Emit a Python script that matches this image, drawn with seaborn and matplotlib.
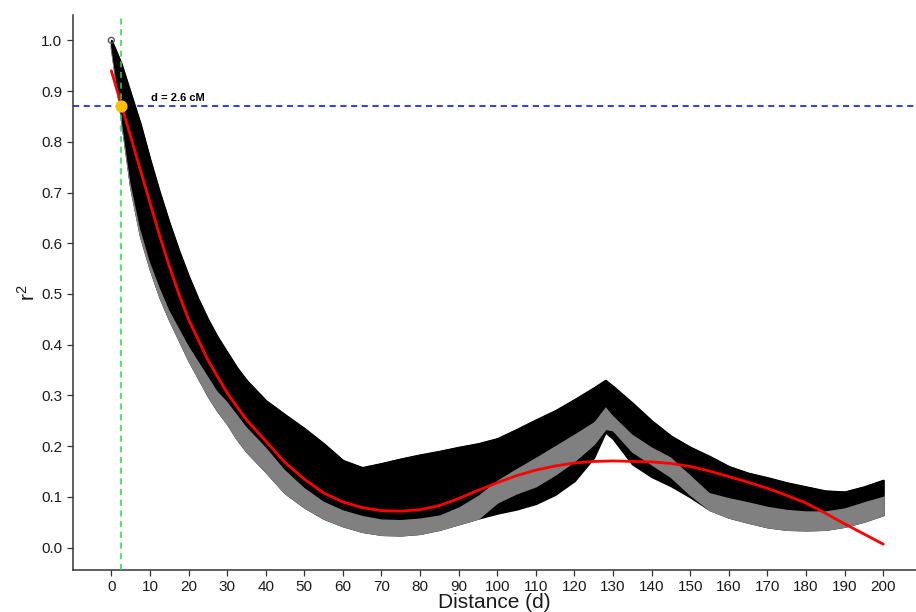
import matplotlib
matplotlib.use('Agg')
import matplotlib.pyplot as plt
import seaborn as sns

# LD decay: envelopes of the point cloud (distance in cM)
d_band = [0, 2.5, 5, 7.5, 10, 12.5, 15, 17.5, 20, 22.5, 25, 27.5, 30, 32.5, 35, 37.5,
          40, 45, 50, 55, 60, 65, 70, 75, 80, 85, 90, 95, 100, 105, 110, 115, 120,
          125, 128, 130, 135, 140, 145, 150, 155, 160, 165, 170, 175, 180, 185, 190,
          195, 200]
# top of the black cloud
r_top = [1.0, 0.955, 0.895, 0.835, 0.765, 0.70, 0.64, 0.585, 0.535, 0.49, 0.45, 0.415,
         0.385, 0.355, 0.33, 0.31, 0.29, 0.262, 0.235, 0.205, 0.172, 0.158, 0.166,
         0.175, 0.183, 0.19, 0.198, 0.205, 0.215, 0.233, 0.252, 0.27, 0.292, 0.315,
         0.33, 0.318, 0.285, 0.25, 0.22, 0.198, 0.18, 0.16, 0.147, 0.138, 0.128, 0.12,
         0.112, 0.11, 0.12, 0.133]
# bottom of the upper black band (= top of the visible grey band)
r_black_bot = [0.99, 0.855, 0.72, 0.63, 0.565, 0.515, 0.47, 0.435, 0.40, 0.37, 0.34,
               0.31, 0.29, 0.265, 0.24, 0.22, 0.20, 0.155, 0.12, 0.093, 0.076, 0.065,
               0.058, 0.057, 0.06, 0.066, 0.082, 0.105, 0.135, 0.158, 0.18, 0.203,
               0.226, 0.25, 0.28, 0.262, 0.225, 0.2, 0.18, 0.145, 0.11, 0.1, 0.092,
               0.083, 0.077, 0.074, 0.074, 0.08, 0.092, 0.103]
# bottom of the grey cloud
r_grey_bot = [0.985, 0.85, 0.71, 0.615, 0.55, 0.495, 0.45, 0.41, 0.37, 0.335, 0.30,
              0.27, 0.245, 0.215, 0.19, 0.17, 0.15, 0.108, 0.08, 0.058, 0.043, 0.032,
              0.026, 0.025, 0.028, 0.036, 0.047, 0.058, 0.09, 0.108, 0.122, 0.145,
              0.172, 0.205, 0.235, 0.232, 0.19, 0.165, 0.14, 0.105, 0.075, 0.06, 0.05,
              0.041, 0.036, 0.035, 0.036, 0.042, 0.052, 0.065]
# lowest black points (only shows below the grey around the peak)
r_lowest = [0.985, 0.85, 0.71, 0.615, 0.55, 0.495, 0.45, 0.41, 0.37, 0.335, 0.30,
            0.27, 0.245, 0.215, 0.19, 0.17, 0.15, 0.108, 0.08, 0.058, 0.043, 0.032,
            0.026, 0.025, 0.028, 0.036, 0.047, 0.058, 0.068, 0.076, 0.087, 0.105,
            0.132, 0.178, 0.228, 0.215, 0.165, 0.14, 0.122, 0.1, 0.075, 0.06, 0.05,
            0.041, 0.036, 0.035, 0.036, 0.042, 0.052, 0.065]

# fitted decay curve
d_fit = [0, 2.5, 5, 7.5, 10, 12.5, 15, 17.5, 20, 25, 30, 35, 40, 45, 50, 55, 60, 65,
         70, 75, 80, 85, 90, 95, 100, 105, 110, 115, 120, 125, 130, 135, 140, 145,
         150, 155, 160, 165, 170, 175, 180, 185, 190, 195, 200]
r_fit = [0.94, 0.875, 0.81, 0.745, 0.68, 0.615, 0.555, 0.50, 0.45, 0.37, 0.305, 0.252,
         0.21, 0.168, 0.135, 0.108, 0.09, 0.079, 0.073, 0.072, 0.075, 0.083, 0.097,
         0.113, 0.128, 0.142, 0.153, 0.161, 0.167, 0.170, 0.171, 0.170, 0.169, 0.166,
         0.160, 0.151, 0.140, 0.129, 0.117, 0.103, 0.088, 0.068, 0.047, 0.027, 0.007]

# half-decay point
d_half = 2.6
r_half = 0.87
half_label = "d = 2.6 cM"

x_ticks = list(range(0, 201, 10))
y_ticks = [0.0, 0.1, 0.2, 0.3, 0.4, 0.5, 0.6, 0.7, 0.8, 0.9, 1.0]

sns.set_style("ticks")
plt.rcParams['font.family'] = ['Liberation Sans', 'DejaVu Sans']
plt.rcParams['mathtext.default'] = 'regular'

fig = plt.figure(figsize=(9.16, 6.12), dpi=100)
ax = fig.add_axes([0.0794, 0.0686, 0.9206, 0.907])

# point cloud
ax.fill_between(d_band, r_lowest, r_top, color='black', lw=1.5, zorder=1)
ax.fill_between(d_band, r_grey_bot, r_black_bot, color='#808080', lw=1.5, zorder=2)
ax.fill_between(d_band, r_black_bot, r_top, color='black', lw=1.0, zorder=3)
ax.scatter([d_band[0]], [r_top[0]], s=18, facecolor='none', edgecolor='#555555',
           linewidth=1, zorder=3)

# threshold lines
ax.axhline(r_half, color='#0000ff', ls=(0, (4, 3)), lw=1.1, zorder=0.5)
ax.axvline(d_half, color='#22dd44', ls=(0, (4, 3)), lw=1.1, zorder=5)

sns.lineplot(x=d_fit, y=r_fit, color='#ff0000', linewidth=2, ax=ax, zorder=4)

ax.scatter([d_half], [r_half], s=60, color='#ffc107', zorder=6)
ax.text(10.2, 0.881, half_label, fontsize=8, fontweight='bold', ha='left',
        va='baseline', color='black')

ax.set_xlim(-10, 208.5)
ax.set_ylim(-0.044, 1.05)
ax.set_xticks(x_ticks)
ax.set_yticks(y_ticks)
ax.set_yticklabels([f"{v:.1f}" for v in y_ticks])
ax.tick_params(axis='both', labelsize=11, length=4, width=0.9, colors='#333333',
               labelcolor='#1a1a1a', direction='out')

for side in ['top', 'right']:
    ax.spines[side].set_visible(False)
for side in ['left', 'bottom']:
    ax.spines[side].set_color('#333333')
    ax.spines[side].set_linewidth(1.1)

ax.set_xlabel("Distance (d)", fontsize=15, labelpad=-1, color='#1a1a1a')
ax.set_ylabel("r$^2$", fontsize=15, labelpad=2, color='#1a1a1a')

fig.savefig("out.png", dpi=100)
